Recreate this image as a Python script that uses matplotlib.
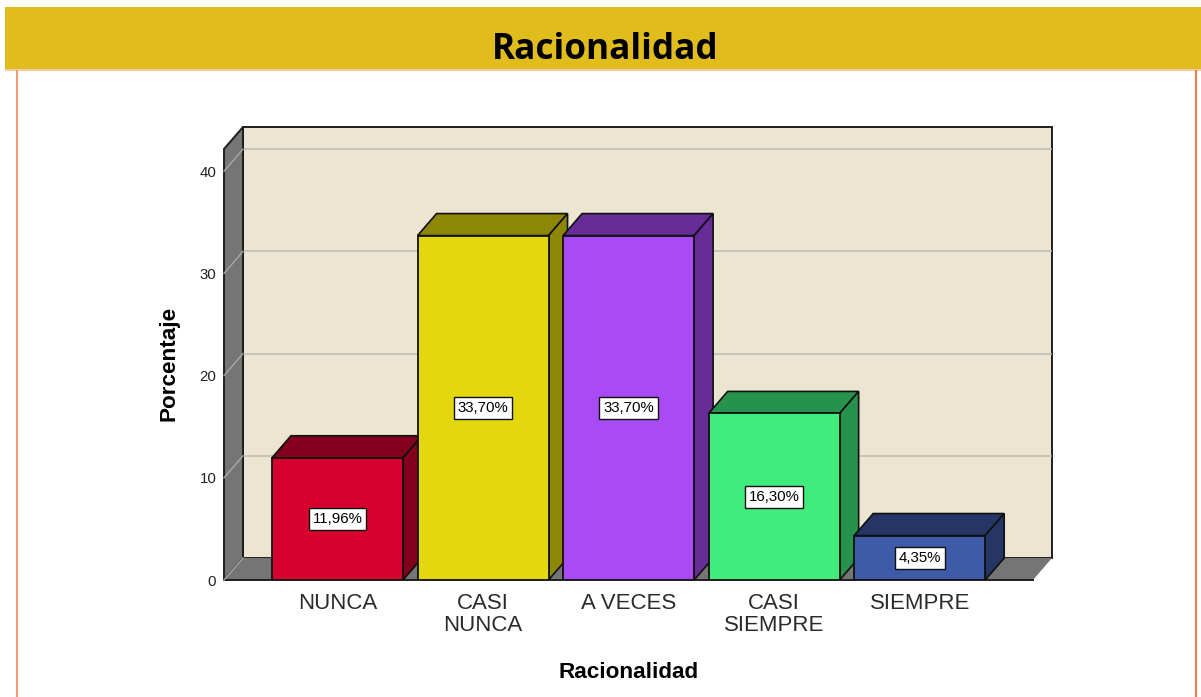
import matplotlib
matplotlib.use("Agg")
import matplotlib.pyplot as plt
from matplotlib.patches import Polygon, Rectangle

categories = ["NUNCA", "CASI\nNUNCA", "A VECES", "CASI\nSIEMPRE", "SIEMPRE"]
values = [11.96, 33.70, 33.70, 16.30, 4.35]
value_labels = ["11,96%", "33,70%", "33,70%", "16,30%", "4,35%"]
front_colors = ["#D7002F", "#E3D80E", "#A84BF5", "#3FEC7C", "#3E5BA9"]
depth_colors = ["#82001C", "#8E8607", "#662C97", "#27924C", "#253666"]
y_ticks = [0, 10, 20, 30, 40]

W, H = 1201, 697
fig = plt.figure(figsize=(W / 100, H / 100), dpi=100, facecolor="white")
plt.rcParams["font.family"] = ["Liberation Sans", "DejaVu Sans"]


def px_rect(x0, y0, x1, y1, **kw):
    fig.add_artist(Rectangle((x0 / W, 1 - y1 / H), (x1 - x0) / W, (y1 - y0) / H,
                             transform=fig.transFigure, **kw))


# page furniture
px_rect(5, 7, W, 69.5, facecolor="#E0BC1C", edgecolor="none")
px_rect(5, 69.5, W, 70.5, facecolor="#F8C8A8", edgecolor="none")
px_rect(16, 70, 18, H, facecolor="#F49A70", edgecolor="none")
px_rect(1195, 70, 1197, H, facecolor="#F47A48", edgecolor="none")
fig.text(605.5 / W, 1 - 50 / H, "Racionalidad", ha="center", va="center",
         fontsize=25.3, fontweight="bold", color="black", family="Open Sans")

# axes: pixel box of the whole 3D frame
px_left, px_right, px_top, px_bottom = 224, 1052, 127, 580
ax = fig.add_axes([px_left / W, 1 - px_bottom / H, (px_right - px_left) / W, (px_bottom - px_top) / H])
x_unit = 145.55   # pixels per category
y_unit = 10.22    # pixels per percent
x_first = 337.5
ax.set_xlim((px_left - x_first) / x_unit, (px_right - x_first) / x_unit)
ax.set_ylim(0, (px_bottom - px_top) / y_unit)
ax.patch.set_alpha(0)
for s in ax.spines.values():
    s.set_visible(False)

dx = 19 / x_unit
dy = 22 / y_unit
x0 = ax.get_xlim()[0]
x1 = ax.get_xlim()[1] - dx
y1 = ax.get_ylim()[1] - dy
edge = "#1E1E1E"
lw = 1.4

# back wall, left wall, floor
ax.add_patch(Polygon([(x0 + dx, dy), (x1 + dx, dy), (x1 + dx, y1 + dy), (x0 + dx, y1 + dy)],
                     closed=True, fc="#EBE5D1", ec=edge, lw=lw, zorder=1, clip_on=False))
ax.add_patch(Polygon([(x0, 0), (x0 + dx, dy), (x0 + dx, y1 + dy), (x0, y1)],
                     closed=True, fc="#757575", ec=edge, lw=lw, zorder=1.5, clip_on=False))
ax.add_patch(Polygon([(x0, 0), (x1, 0), (x1 + dx, dy), (x0 + dx, dy)],
                     closed=True, fc="#757575", ec="none", zorder=1.5, clip_on=False))
ax.plot([x0, x1], [0, 0], color=edge, lw=lw, zorder=1.6, clip_on=False)

# gridlines
for t in y_ticks:
    if t > 0:
        ax.plot([x0 + dx, x1 + dx], [t + dy, t + dy], color="#BDB9AE", lw=1.1, zorder=1.2)
    ax.plot([x0, x0 + dx], [t, t + dy], color="#A8A8A8", lw=1.0, zorder=1.7, clip_on=False)

# bars
width = 131 / x_unit
for i, v in enumerate(values):
    zo = 3 + i
    left, right = i - width / 2, i + width / 2
    ax.bar(i, v, width=width, color=front_colors[i], edgecolor="#101010", linewidth=1.3, zorder=zo + 0.2)
    ax.add_patch(Polygon([(left, v), (right, v), (right + dx, v + dy), (left + dx, v + dy)],
                         closed=True, fc=depth_colors[i], ec="#101010", lw=1.2, zorder=zo))
    ax.add_patch(Polygon([(right, 0), (right + dx, dy), (right + dx, v + dy), (right, v)],
                         closed=True, fc=depth_colors[i], ec="#101010", lw=1.2, zorder=zo))
    ax.text(i, v / 2, value_labels[i], ha="center", va="center", fontsize=10.8, color="black",
            zorder=zo + 0.5,
            bbox=dict(boxstyle="square,pad=0.26", fc="white", ec="#101010", lw=1.0))

# ticks and labels
ax.set_xticks(range(len(categories)), categories, fontsize=16.0, color="#2A2A2A", linespacing=1.05)
ax.set_yticks(y_ticks, [str(t) for t in y_ticks], fontsize=10.8, color="#222222")
ax.tick_params(axis="both", length=0)
ax.tick_params(axis="x", pad=9.5)
ax.tick_params(axis="y", pad=5.5)
fig.text(168.5 / W, 1 - 363 / H, "Porcentaje", rotation=90, ha="center", va="center",
         fontsize=16.2, fontweight="bold", color="black")
fig.text(629 / W, 1 - 673 / H, "Racionalidad", ha="center", va="center",
         fontsize=16.2, fontweight="bold", color="black")

fig.savefig("out.png", dpi=100, facecolor="white")
